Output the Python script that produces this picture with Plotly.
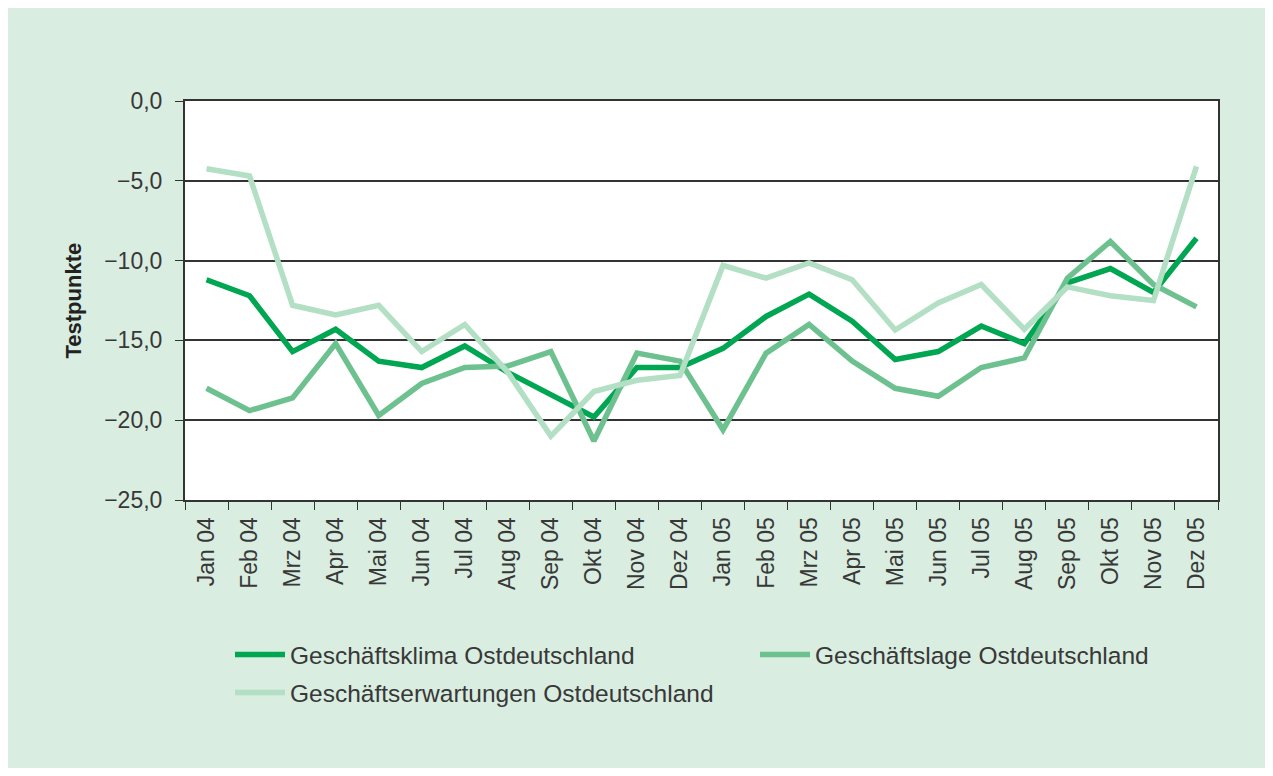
import plotly.graph_objects as go

months = ["Jan 04", "Feb 04", "Mrz 04", "Apr 04", "Mai 04", "Jun 04", "Jul 04", "Aug 04",
          "Sep 04", "Okt 04", "Nov 04", "Dez 04", "Jan 05", "Feb 05", "Mrz 05", "Apr 05",
          "Mai 05", "Jun 05", "Jul 05", "Aug 05", "Sep 05", "Okt 05", "Nov 05", "Dez 05"]

klima = [-11.2, -12.2, -15.7, -14.3, -16.3, -16.7, -15.35, -17.0, -18.4, -19.8, -16.7, -16.7,
         -15.5, -13.5, -12.1, -13.8, -16.2, -15.7, -14.1, -15.2, -11.4, -10.5, -12.0, -8.6]
lage = [-18.0, -19.4, -18.6, -15.2, -19.7, -17.7, -16.7, -16.6, -15.7, -21.3, -15.8, -16.3,
        -20.6, -15.8, -14.0, -16.3, -18.0, -18.5, -16.7, -16.1, -11.1, -8.8, -11.5, -12.9]
erwartung = [-4.25, -4.7, -12.8, -13.4, -12.8, -15.7, -14.0, -17.0, -21.0, -18.2, -17.5, -17.2,
             -10.3, -11.1, -10.15, -11.2, -14.35, -12.65, -11.5, -14.3, -11.65, -12.2, -12.5, -4.1]

names = ["Geschäftsklima Ostdeutschland", "Geschäftslage Ostdeutschland",
         "Geschäftserwartungen Ostdeutschland"]
colors = ["#00a651", "#6cc18f", "#b3dfc4"]
yticks = [0, -5, -10, -15, -20, -25]

# page is shown with an 8px body margin; figure covers page pixels 8..1265 x 8..768
OFF = 8
W, H = 1265 - OFF, 768 - OFF
L, R, T, B = 185, 1218, 101, 500      # plot area in page pixels
pw, ph = R - L, B - T

FONT = "Liberation Sans"
TXT = "#383838"
FS = 23
LFS = 24.5

def px2x(p):
    return (p - L) / pw

def px2y(p):
    return (B - p) / ph

fig = go.Figure()
series = [klima, lage, erwartung]
legends = ["legend", "legend2", "legend3"]
for s, n, c, lg in zip(series, names, colors, legends):
    fig.add_trace(go.Scatter(x=months, y=s, name=n, mode="lines",
                             line=dict(color=c, width=5.5), legend=lg))

leg_common = dict(orientation="h", xanchor="left", yanchor="top",
                  bgcolor="rgba(0,0,0,0)", itemwidth=50,
                  font=dict(size=LFS, family=FONT, color=TXT))

fig.update_layout(
    width=W, height=H,
    margin=dict(l=L - OFF, r=(W + OFF) - R, t=T - OFF, b=(H + OFF) - B, pad=0),
    paper_bgcolor="#d9ede0", plot_bgcolor="white",
    font=dict(family=FONT, color=TXT, size=FS),
    separators=",.",
    showlegend=True,
    legend=dict(x=px2x(230), y=px2y(632), **leg_common),
    legend2=dict(x=px2x(755), y=px2y(632), **leg_common),
    legend3=dict(x=px2x(230), y=px2y(670), **leg_common),
    annotations=[dict(text="<b>Testpunkte</b>", xref="paper", yref="paper",
                      x=px2x(73), y=0.5, xanchor="center", yanchor="middle",
                      textangle=-90, showarrow=False,
                      font=dict(size=22, family=FONT, color="#222222"))],
)

fig.update_xaxes(
    type="category", tickangle=-90, tickson="boundaries", ticks="outside", ticklen=8,
    tickcolor="#333333", showline=True, linecolor="#333333", linewidth=2, mirror=True,
    showgrid=False, tickfont=dict(size=FS, family=FONT, color=TXT),
    ticklabelstandoff=6, range=[-0.5, 23.5],
)
fig.update_yaxes(
    range=[-25, 0], tickvals=yticks, tickformat=".1f", ticks="outside", ticklen=8,
    tickcolor="#333333", showline=True, linecolor="#333333", linewidth=2, mirror=True,
    showgrid=True, gridcolor="#333333", gridwidth=1.5, zeroline=False,
    tickfont=dict(size=FS, family=FONT, color=TXT), ticklabelstandoff=8,
)

fig.write_html("out.html")
